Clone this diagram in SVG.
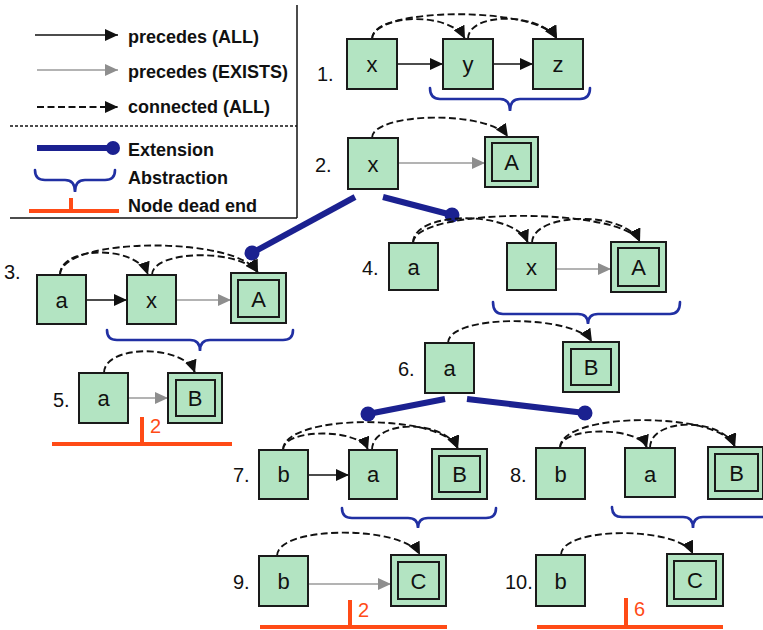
<svg xmlns="http://www.w3.org/2000/svg" width="763" height="630" viewBox="0 0 763 630">
  <defs>
    <marker id="ah-black" markerUnits="userSpaceOnUse" markerWidth="14" markerHeight="12" refX="13" refY="6" orient="auto">
      <path d="M0,0 L13,6 L0,12 z" fill="#111"/>
    </marker>
    <marker id="ah-gray" markerUnits="userSpaceOnUse" markerWidth="14" markerHeight="12" refX="13" refY="6" orient="auto">
      <path d="M0,0 L13,6 L0,12 z" fill="#8e8e8e"/>
    </marker>
    <style>
      .box { fill: #b3e4c2; stroke: #1a1a1a; stroke-width: 2; }
      .inner { fill: none; stroke: #1a1a1a; stroke-width: 2; }
      .lbl { font-family: "Liberation Sans", Arial, sans-serif; font-size: 22px; fill: #111; text-anchor: middle; }
      .num { font-family: "Liberation Sans", Arial, sans-serif; font-size: 20px; fill: #111; }
      .leg { font-family: "Liberation Sans", Arial, sans-serif; font-size: 18px; font-weight: bold; fill: #111; }
      .solid { stroke: #111; stroke-width: 1.6; fill: none; marker-end: url(#ah-black); }
      .exists { stroke: #9a9a9a; stroke-width: 1.6; fill: none; marker-end: url(#ah-gray); }
      .conn { stroke: #111; stroke-width: 1.9; fill: none; stroke-dasharray: 7 3.5; marker-end: url(#ah-black); }
      .ext { stroke: #1b2190; stroke-width: 6; fill: none; }
      .extdot { fill: #1b2190; }
      .brace { stroke: #2130a3; stroke-width: 2.6; fill: none; stroke-linecap: round; }
      .dead { stroke: #ff4b16; stroke-width: 4; fill: none; }
      .deadnum { font-family: "Liberation Sans", Arial, sans-serif; font-size: 20px; fill: #ff4b16; }
    </style>
  </defs>

  <!-- legend -->
  <g id="legend">
    <line x1="297" y1="5" x2="297" y2="218" stroke="#111" stroke-width="1.5"/>
    <line x1="10" y1="218" x2="297" y2="218" stroke="#111" stroke-width="1.5"/>
    <line x1="10" y1="126" x2="297" y2="126" stroke="#111" stroke-width="1.3" stroke-dasharray="3 2"/>
    <line class="solid" x1="35" y1="35" x2="118" y2="35"/>
    <text class="leg" x="128" y="43">precedes (ALL)</text>
    <line class="exists" x1="37" y1="70" x2="118" y2="70"/>
    <text class="leg" x="128" y="78">precedes (EXISTS)</text>
    <line class="conn" x1="37" y1="107" x2="118" y2="107"/>
    <text class="leg" x="128" y="113">connected (ALL)</text>
    <line class="ext" x1="37" y1="148" x2="112" y2="148" stroke-width="5"/>
    <circle class="extdot" cx="113" cy="148" r="7"/>
    <text class="leg" x="128" y="156">Extension</text>
    <path class="brace" d="M35,170 Q35,180 45,180 L65,180 Q75,180 75,192 Q75,180 85,180 L105,180 Q115,180 115,170"/>
    <text class="leg" x="128" y="184">Abstraction</text>
    <line class="dead" x1="29" y1="211" x2="119" y2="211"/>
    <line class="dead" x1="71" y1="198" x2="71" y2="211"/>
    <text class="leg" x="128" y="212">Node dead end</text>
  </g>

  <!-- connectors -->
  <g id="connectors">
    <!-- extension branches -->
    <line class="ext" x1="355" y1="197" x2="252" y2="253"/>
    <circle class="extdot" cx="252" cy="253" r="7.5"/>
    <line class="ext" x1="383" y1="197" x2="452" y2="215"/>
    <circle class="extdot" cx="452" cy="215" r="7.5"/>
    <line class="ext" x1="445" y1="399" x2="368" y2="414"/>
    <circle class="extdot" cx="368" cy="414" r="7.5"/>
    <line class="ext" x1="467" y1="399" x2="585" y2="413"/>
    <circle class="extdot" cx="585" cy="413" r="7.5"/>

    <!-- abstraction braces -->
    <path class="brace" d="M430,88 Q430,99 440,99 L500,99 Q510,99 510,111 Q510,99 520,99 L580,99 Q590,99 590,88"/>
    <path class="brace" d="M107,330 Q107,340 117,340 L190,340 Q200,340 200,351 Q200,340 210,340 L283,340 Q293,340 293,330"/>
    <path class="brace" d="M493,302 Q493,314 503,314 L578,314 Q588,314 588,324 Q588,314 598,314 L670,314 Q680,314 680,302"/>
    <path class="brace" d="M342,508 Q342,518 352,518 L408,518 Q418,518 418,528 Q418,518 428,518 L486,518 Q496,518 496,508"/>
    <path class="brace" d="M612,507 Q612,517 622,517 L683,517 Q693,517 693,528 Q693,517 703,517 L764,517 Q774,517 774,507"/>

    <!-- dead ends -->
    <line class="dead" x1="52" y1="444" x2="232" y2="444"/>
    <line class="dead" x1="142" y1="417" x2="142" y2="444"/>
    <text class="deadnum" x="150" y="433">2</text>
    <line class="dead" x1="260" y1="627" x2="447" y2="627"/>
    <line class="dead" x1="350" y1="600" x2="350" y2="627"/>
    <text class="deadnum" x="358" y="617">2</text>
    <line class="dead" x1="537" y1="627" x2="723" y2="627"/>
    <line class="dead" x1="626" y1="598" x2="626" y2="627"/>
    <text class="deadnum" x="634" y="616">6</text>

    <!-- row 1 -->
    <line class="solid" x1="397" y1="64" x2="443" y2="64"/>
    <line class="solid" x1="493" y1="64" x2="533" y2="64"/>
    <path class="conn" d="M372,39 C372,15 450,10 465,39"/>
    <path class="conn" d="M372,39 C372,6 540,6 557,39"/>
    <path class="conn" d="M468,39 C468,12 540,12 557,39"/>
    <!-- row 2 -->
    <line class="exists" x1="398" y1="163" x2="485" y2="163"/>
    <path class="conn" d="M372,138 C372,112 490,110 508,137"/>
    <!-- row 3 -->
    <line class="solid" x1="86" y1="300" x2="127" y2="300"/>
    <line class="exists" x1="176" y1="300" x2="231" y2="300"/>
    <path class="conn" d="M60,275 C60,245 138,245 148,275"/>
    <path class="conn" d="M60,275 C60,236 240,236 258,273"/>
    <path class="conn" d="M152,275 C152,250 240,248 258,273"/>
    <!-- row 4 -->
    <line class="exists" x1="556" y1="269" x2="611" y2="269"/>
    <path class="conn" d="M413,243 C413,210 515,210 528,243"/>
    <path class="conn" d="M413,243 C413,207 625,207 640,242"/>
    <path class="conn" d="M532,243 C532,212 625,210 640,242"/>
    <!-- row 5 -->
    <line class="exists" x1="128" y1="398" x2="168" y2="398"/>
    <path class="conn" d="M104,373 C104,344 185,344 195,373"/>
    <!-- row 6 -->
    <path class="conn" d="M448,343 C448,314 575,314 592,342"/>
    <!-- row 7 -->
    <line class="solid" x1="308" y1="475" x2="349" y2="475"/>
    <path class="conn" d="M283,450 C283,428 360,428 368,450"/>
    <path class="conn" d="M283,450 C283,413 445,413 458,449"/>
    <path class="conn" d="M372,450 C372,419 445,419 458,449"/>
    <!-- row 8 -->
    <path class="conn" d="M560,448 C560,426 640,426 647,448"/>
    <path class="conn" d="M560,448 C560,411 722,411 735,447"/>
    <path class="conn" d="M650,448 C650,417 722,417 735,447"/>
    <!-- row 9 -->
    <line class="exists" x1="308" y1="584" x2="391" y2="584"/>
    <path class="conn" d="M277,556 C277,525 405,525 420,555"/>
    <!-- row 10 -->
    <path class="conn" d="M561,555 C561,526 680,526 693,554"/>
  </g>

  <!-- step numbers -->
  <g id="steps">
    <text class="num" x="317" y="81">1.</text>
    <text class="num" x="315" y="172">2.</text>
    <text class="num" x="4" y="279">3.</text>
    <text class="num" x="362" y="275">4.</text>
    <text class="num" x="53" y="407">5.</text>
    <text class="num" x="398" y="376">6.</text>
    <text class="num" x="233" y="482">7.</text>
    <text class="num" x="510" y="482">8.</text>
    <text class="num" x="233" y="589">9.</text>
    <text class="num" x="505" y="589">10.</text>
  </g>

  <!-- row 1 -->
  <g id="n1-x"><rect class="box" x="347" y="39" width="50" height="50"/><text class="lbl" x="372" y="72">x</text></g>
  <g id="n1-y"><rect class="box" x="443" y="39" width="50" height="50"/><text class="lbl" x="468" y="72">y</text></g>
  <g id="n1-z"><rect class="box" x="533" y="39" width="50" height="50"/><text class="lbl" x="558" y="72">z</text></g>

  <!-- row 2 -->
  <g id="n2-x"><rect class="box" x="348" y="138" width="50" height="51"/><text class="lbl" x="373" y="172">x</text></g>
  <g id="n2-A"><rect class="box" x="485" y="137" width="53" height="50"/><rect class="inner" x="492" y="143" width="39" height="38"/><text class="lbl" x="511.5" y="170">A</text></g>

  <!-- row 3 -->
  <g id="n3-a"><rect class="box" x="37" y="275" width="49" height="49"/><text class="lbl" x="61.5" y="308">a</text></g>
  <g id="n3-x"><rect class="box" x="127" y="275" width="49" height="49"/><text class="lbl" x="151.5" y="308">x</text></g>
  <g id="n3-A"><rect class="box" x="231" y="273" width="55" height="50"/><rect class="inner" x="238" y="280" width="41" height="37"/><text class="lbl" x="258.5" y="307">A</text></g>

  <!-- row 4 -->
  <g id="n4-a"><rect class="box" x="389" y="243" width="49" height="47"/><text class="lbl" x="413.5" y="275">a</text></g>
  <g id="n4-x"><rect class="box" x="507" y="243" width="49" height="47"/><text class="lbl" x="531.5" y="275">x</text></g>
  <g id="n4-A"><rect class="box" x="611" y="242" width="55" height="50"/><rect class="inner" x="618" y="248" width="41" height="38"/><text class="lbl" x="638.5" y="275">A</text></g>

  <!-- row 5 -->
  <g id="n5-a"><rect class="box" x="79" y="373" width="49" height="50"/><text class="lbl" x="103.5" y="406">a</text></g>
  <g id="n5-B"><rect class="box" x="168" y="373" width="54" height="50"/><rect class="inner" x="176" y="380" width="39" height="36"/><text class="lbl" x="195" y="406">B</text></g>

  <!-- row 6 -->
  <g id="n6-a"><rect class="box" x="425" y="343" width="49" height="50"/><text class="lbl" x="449.5" y="376">a</text></g>
  <g id="n6-B"><rect class="box" x="563" y="342" width="56" height="50"/><rect class="inner" x="571" y="349" width="40" height="36"/><text class="lbl" x="591" y="375">B</text></g>

  <!-- row 7 -->
  <g id="n7-b"><rect class="box" x="259" y="450" width="49" height="49"/><text class="lbl" x="283.5" y="482">b</text></g>
  <g id="n7-a"><rect class="box" x="349" y="450" width="48" height="49"/><text class="lbl" x="373" y="482">a</text></g>
  <g id="n7-B"><rect class="box" x="432" y="449" width="55" height="50"/><rect class="inner" x="439" y="456" width="41" height="36"/><text class="lbl" x="459.5" y="482">B</text></g>

  <!-- row 8 -->
  <g id="n8-b"><rect class="box" x="536" y="448" width="49" height="51"/><text class="lbl" x="560.5" y="482">b</text></g>
  <g id="n8-a"><rect class="box" x="625" y="448" width="50" height="49"/><text class="lbl" x="650" y="482">a</text></g>
  <g id="n8-B"><rect class="box" x="708" y="447" width="55" height="52"/><rect class="inner" x="715" y="454" width="43" height="37"/><text class="lbl" x="736.5" y="481">B</text></g>

  <!-- row 9 -->
  <g id="n9-b"><rect class="box" x="259" y="556" width="49" height="50"/><text class="lbl" x="283.5" y="589">b</text></g>
  <g id="n9-C"><rect class="box" x="391" y="555" width="55" height="51"/><rect class="inner" x="398" y="562" width="41" height="37"/><text class="lbl" x="418.5" y="589">C</text></g>

  <!-- row 10 -->
  <g id="n10-b"><rect class="box" x="536" y="555" width="49" height="51"/><text class="lbl" x="560.5" y="589">b</text></g>
  <g id="n10-C"><rect class="box" x="667" y="554" width="56" height="52"/><rect class="inner" x="674" y="561" width="42" height="38"/><text class="lbl" x="695" y="588">C</text></g>
</svg>
